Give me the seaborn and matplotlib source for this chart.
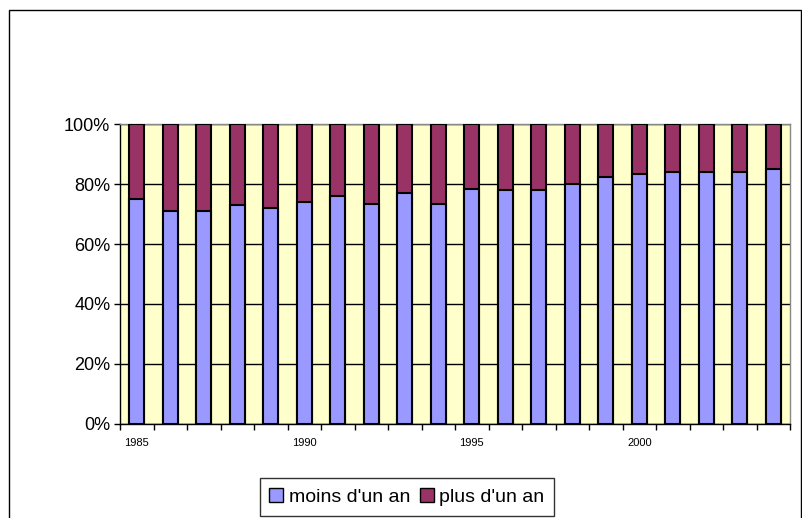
import numpy as np
import pandas as pd
import matplotlib.pyplot as plt
import seaborn as sns
from matplotlib.patches import Patch, Rectangle
from matplotlib.ticker import PercentFormatter, FixedLocator

years = list(range(1985, 2005))
moins_un_an = [75, 71, 71, 73, 72, 74, 76, 73.5, 77, 73.5,
               78.5, 78, 78, 80, 82.5, 83.5, 84, 84, 84, 85]
plus_un_an = [100 - v for v in moins_un_an]
tick_years = [1985, 1990, 1995, 2000]

df = pd.DataFrame({"annee": years, "moins": moins_un_an, "plus": plus_un_an})
df["total"] = df["moins"] + df["plus"]

sns.set_style("white")
plt.rcParams["font.family"] = ["Liberation Sans", "DejaVu Sans"]
plt.rcParams["text.color"] = "black"
plt.rcParams["xtick.color"] = "black"
plt.rcParams["ytick.color"] = "black"

fig = plt.figure(figsize=(8.02, 5.18), dpi=100)
ax = fig.add_axes([120 / 802, 1 - 424 / 518, 670 / 802, 300 / 518])
ax.set_facecolor("#FFFFCC")

sns.barplot(data=df, x="annee", y="total", color="#993366", width=0.45,
            edgecolor="black", linewidth=1.5, saturation=1, ax=ax, zorder=3)
sns.barplot(data=df, x="annee", y="moins", color="#9999FF", width=0.45,
            edgecolor="black", linewidth=1.5, saturation=1, ax=ax, zorder=4)

ax.set_xlim(-0.5, len(years) - 0.5)
ax.set_ylim(0, 100)
ax.set_yticks([0, 20, 40, 60, 80, 100])
ax.yaxis.set_major_formatter(PercentFormatter(decimals=0))
ax.grid(axis="y", color="black", linewidth=1, zorder=1)
ax.set_axisbelow(True)

ax.set_xticks(range(len(years)))
ax.set_xticklabels([str(y) if y in tick_years else "" for y in years])
ax.xaxis.set_minor_locator(FixedLocator(np.arange(-0.5, len(years), 1)))
ax.tick_params(axis="x", which="major", length=0, labelsize=8, pad=10, labelcolor="black")
ax.tick_params(axis="x", which="minor", length=4, width=1, color="black", bottom=True)
ax.tick_params(axis="y", length=4, width=1, color="black", left=True, labelsize=13, pad=3,
               labelcolor="black")
ax.set_xlabel("")
ax.set_ylabel("")

for side in ["left", "bottom"]:
    ax.spines[side].set_color("black")
    ax.spines[side].set_linewidth(1)
for side in ["top", "right"]:
    ax.spines[side].set_color("#888888")
    ax.spines[side].set_linewidth(1)

fig.patches.append(Rectangle((9 / 802, -0.02), 792 / 802, 1 - 10 / 518 + 0.02,
                             transform=fig.transFigure, fill=False,
                             edgecolor="black", linewidth=1))

handles = [Patch(facecolor="#9999FF", edgecolor="black", label="moins d'un an"),
           Patch(facecolor="#993366", edgecolor="black", label="plus d'un an")]
leg = fig.legend(handles=handles, loc="center", bbox_to_anchor=(407 / 802, 1 - 497 / 518),
                 ncol=2, fontsize=14, frameon=True, fancybox=False, edgecolor="black",
                 handlelength=0.7, handleheight=0.7, handletextpad=0.3, columnspacing=0.5,
                 borderpad=0.5)
leg.get_frame().set_linewidth(1)

fig.savefig("out.png", dpi=100)
